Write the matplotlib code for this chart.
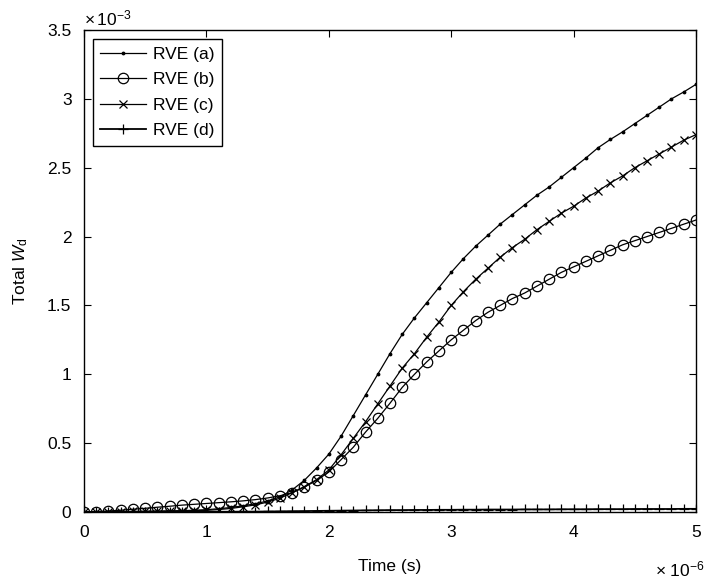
import numpy as np
import matplotlib
matplotlib.use("Agg")
import matplotlib.pyplot as plt
from matplotlib.ticker import FuncFormatter

# Time in units of 1e-6 s, 0.1 steps (51 points)
time_us = [round(0.1 * i, 1) for i in range(51)]

# Total W_d in units of 1e-3
rve_a = [0.000, 0.001, 0.002, 0.003, 0.004, 0.005, 0.006, 0.008, 0.010, 0.013,
         0.017, 0.024, 0.033, 0.045, 0.060, 0.080, 0.110, 0.160, 0.230, 0.320,
         0.420, 0.550, 0.700, 0.850, 1.000, 1.150, 1.290, 1.410, 1.520, 1.630,
         1.740, 1.840, 1.930, 2.010, 2.090, 2.160, 2.230, 2.300, 2.360, 2.430,
         2.500, 2.570, 2.645, 2.705, 2.760, 2.820, 2.880, 2.940, 3.000, 3.050,
         3.105]
rve_b = [0.000, 0.003, 0.008, 0.013, 0.020, 0.027, 0.035, 0.042, 0.050, 0.056,
         0.062, 0.068, 0.074, 0.081, 0.090, 0.102, 0.118, 0.140, 0.180, 0.230,
         0.290, 0.380, 0.470, 0.580, 0.680, 0.790, 0.905, 1.000, 1.090, 1.170,
         1.250, 1.320, 1.390, 1.450, 1.500, 1.550, 1.590, 1.640, 1.690, 1.740,
         1.780, 1.820, 1.860, 1.900, 1.940, 1.970, 2.000, 2.030, 2.060, 2.090,
         2.120]
rve_c = [0.000, 0.001, 0.002, 0.003, 0.004, 0.005, 0.006, 0.007, 0.008, 0.010,
         0.012, 0.018, 0.026, 0.038, 0.052, 0.072, 0.100, 0.140, 0.185, 0.235,
         0.305, 0.415, 0.535, 0.655, 0.785, 0.915, 1.045, 1.150, 1.270, 1.380,
         1.500, 1.600, 1.690, 1.770, 1.850, 1.920, 1.980, 2.050, 2.110, 2.170,
         2.220, 2.280, 2.330, 2.390, 2.440, 2.500, 2.550, 2.600, 2.650, 2.700,
         2.740]
rve_d = [0.000, 0.000, 0.000, 0.000, 0.000, 0.000, 0.000, 0.000, 0.001, 0.001,
         0.001, 0.002, 0.002, 0.003, 0.003, 0.004, 0.005, 0.006, 0.007, 0.008,
         0.009, 0.010, 0.011, 0.012, 0.013, 0.014, 0.014, 0.015, 0.015, 0.016,
         0.016, 0.017, 0.017, 0.018, 0.018, 0.018, 0.019, 0.019, 0.019, 0.020,
         0.020, 0.020, 0.021, 0.021, 0.021, 0.022, 0.022, 0.022, 0.022, 0.023,
         0.023]

labels = ["RVE (a)", "RVE (b)", "RVE (c)", "RVE (d)"]
x_ticks = [0, 1, 2, 3, 4, 5]
y_ticks = [0, 0.5, 1, 1.5, 2, 2.5, 3, 3.5]

plt.rcParams['font.family'] = ['Liberation Sans', 'DejaVu Sans']
plt.rcParams['mathtext.fontset'] = 'custom'
plt.rcParams['mathtext.rm'] = 'Liberation Sans'
plt.rcParams['mathtext.it'] = 'Liberation Sans:italic'
plt.rcParams['mathtext.sf'] = 'Liberation Sans'

fs = 12.5
fig = plt.figure(figsize=(7.07, 5.80), dpi=100)
ax = fig.add_axes([0.1188, 0.1172, 0.8656, 0.8311])

lw = 0.9
ax.plot(time_us, rve_a, color='black', lw=lw, marker='.', markersize=3.5, label=labels[0])
ax.plot(time_us, rve_b, color='black', lw=lw, marker='o', markersize=7.5,
        markerfacecolor='none', markeredgewidth=0.9, label=labels[1])
ax.plot(time_us, rve_c, color='black', lw=lw, marker='x', markersize=5.5,
        markeredgewidth=0.9, label=labels[2])
ax.plot(time_us, rve_d, color='black', lw=1.3, marker='+', markersize=7,
        markeredgewidth=0.9, label=labels[3])

ax.set_xlim(0, 5)
ax.set_ylim(0, 3.5)
ax.set_xticks(x_ticks)
ax.set_yticks(y_ticks)
fmt = FuncFormatter(lambda v, p: f"{v:g}")
ax.xaxis.set_major_formatter(fmt)
ax.yaxis.set_major_formatter(fmt)
ax.tick_params(direction='in', top=True, right=True, length=5, width=0.8,
               labelsize=fs)
ax.tick_params(axis='x', pad=9)
ax.tick_params(axis='y', pad=9)
for s in ax.spines.values():
    s.set_linewidth(1.0)

ax.set_xlabel("Time (s)", fontsize=fs, labelpad=14)
ax.set_ylabel(r"Total $W_\mathrm{d}$", fontsize=fs, labelpad=12)

ax.text(0.0, 1.004, r"$\times\,10^{-3}$", transform=ax.transAxes,
        ha='left', va='bottom', fontsize=fs)
fig.text(705 / 707, 1 - 569 / 580, r"$\times\ 10^{-6}$",
         ha='right', va='center', fontsize=fs)

leg = ax.legend(loc='upper left', fontsize=fs, frameon=True, fancybox=False,
                edgecolor='black', framealpha=1, handlelength=2.6,
                handletextpad=0.4, borderpad=0.45, labelspacing=0.6,
                borderaxespad=0.5)
leg.get_frame().set_linewidth(1.0)

fig.savefig("out.png", dpi=100)
